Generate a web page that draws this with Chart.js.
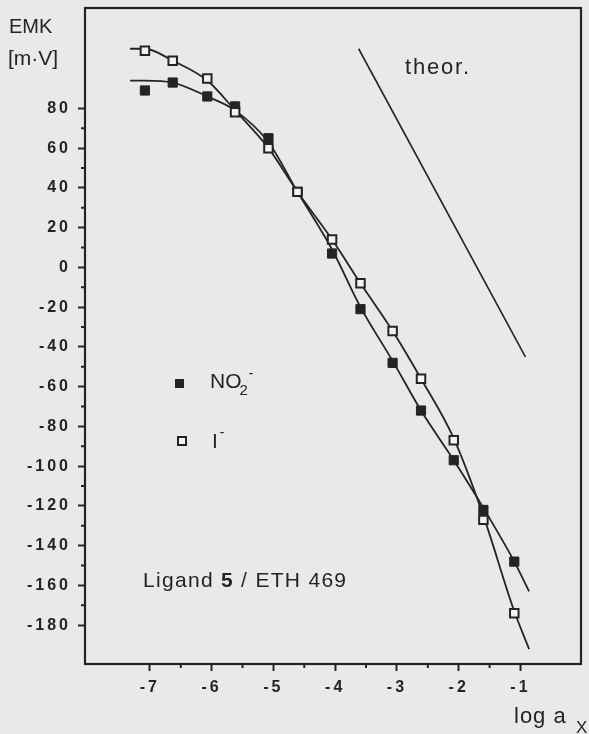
<!DOCTYPE html>
<html>
<head>
<meta charset="utf-8">
<script src="https://cdn.jsdelivr.net/npm/chart.js@4.4.1/dist/chart.umd.min.js"></script>
<style>
  html, body { margin: 0; padding: 0; background: #e9e9e9; }
  #wrap { width: 589px; height: 734px; }
</style>
</head>
<body>
<div id="wrap"><canvas id="emkChart" width="589" height="734"></canvas></div>
<script>
// measured points (log a_x -> EMK in mV)
const logA = [-7.08, -6.63, -6.07, -5.62, -5.08, -4.61, -4.05, -3.59, -3.07, -2.61, -2.08, -1.60, -1.10];
const emkNO2 = [89, 93, 86, 81, 65, 38, 7, -21, -48, -72, -97, -122, -148];
const emkIodide = [109, 104, 95, 78, 60, 38, 14, -8, -32, -56, -87, -127, -174];

// fitted curves
const fitLogA = [-7.32, -7.08, -6.63, -6.07, -5.62, -5.08, -4.61, -4.05, -3.59, -3.07, -2.61, -2.08, -1.60, -1.10, -0.86];
const fitNO2 = [94, 94, 93, 86, 79, 63, 38, 9, -20, -47, -72, -97, -121, -148, -163];
const fitIodide = [110, 110, 104, 94, 79, 60, 38, 14, -8, -32, -56, -86, -125, -173, -192];

// theoretical slope line
const theorLogA = [-3.62, -0.92];
const theorEmk = [110, -45];

// axis ticks
const xMajorTicks = [-7, -6, -5, -4, -3, -2, -1];
const xMinorTicks = [-6.5, -5.5, -4.5, -3.5, -2.5, -1.5];
const yMajorTicks = [-180, -160, -140, -120, -100, -80, -60, -40, -20, 0, 20, 40, 60, 80];
const yMinorTicks = [-170, -150, -130, -110, -90, -70, -50, -30, -10, 10, 30, 50, 70];

const ink = '#242424';
const fontFamily = '"Liberation Sans", Arial, Helvetica, sans-serif';

const toPoints = (xs, ys) => xs.map((x, i) => ({ x: x, y: ys[i] }));

function drawText(ctx, str, x, y, font, spacing) {
    ctx.font = font;
    ctx.letterSpacing = (spacing || 0) + 'px';
    ctx.fillText(str, x, y);
    return x + ctx.measureText(str).width;
}

const decorations = {
    id: 'decorations',
    beforeDraw(chart) {
        // spaced-out tick labels like the original print
        chart.ctx.letterSpacing = '3px';
    },
    afterDraw(chart) {
        const ctx = chart.ctx;
        const area = chart.chartArea;
        const xs = chart.scales.x;
        const ys = chart.scales.y;
        ctx.save();
        ctx.strokeStyle = ink;
        ctx.fillStyle = ink;

        // frame
        ctx.lineWidth = 2.2;
        ctx.strokeRect(area.left, area.top, area.right - area.left, area.bottom - area.top);

        // minor ticks
        ctx.lineWidth = 2;
        ctx.beginPath();
        xMinorTicks.forEach(v => {
            const px = xs.getPixelForValue(v);
            ctx.moveTo(px, area.bottom);
            ctx.lineTo(px, area.bottom + 4);
        });
        yMinorTicks.forEach(v => {
            const py = ys.getPixelForValue(v);
            ctx.moveTo(area.left - 4, py);
            ctx.lineTo(area.left, py);
        });
        ctx.stroke();

        ctx.textBaseline = 'alphabetic';
        ctx.textAlign = 'left';

        // axis titles
        drawText(ctx, 'EMK', 9, 33, '20px ' + fontFamily, 0);
        drawText(ctx, '[m\u00B7V]', 8, 65, '21px ' + fontFamily, 0);
        let end = drawText(ctx, 'log a', 514, 723, '22px ' + fontFamily, 1);
        drawText(ctx, 'X', 576, 733, '17px ' + fontFamily, 0);

        // annotations
        drawText(ctx, 'theor.', 405, 74, '22px ' + fontFamily, 1.8);
        end = drawText(ctx, 'Ligand ', 143, 587, '21px ' + fontFamily, 1.3);
        end = drawText(ctx, '5', end, 587, 'bold 21px ' + fontFamily, 1.3);
        drawText(ctx, ' / ETH 469', end, 587, '21px ' + fontFamily, 1.3);

        // legend
        ctx.fillRect(175, 379, 9, 9);
        end = drawText(ctx, 'NO', 210, 388, '21px ' + fontFamily, 0);
        end = drawText(ctx, '2', end - 2, 395, '15px ' + fontFamily, 0);
        drawText(ctx, '-', end + 1, 378, '14px ' + fontFamily, 0);

        ctx.lineWidth = 2;
        ctx.fillStyle = '#f3f3f3';
        ctx.fillRect(178, 437, 8, 8);
        ctx.strokeRect(178, 437, 8, 8);
        ctx.fillStyle = ink;
        end = drawText(ctx, 'I', 212, 448, '21px ' + fontFamily, 0);
        drawText(ctx, '-', end + 2, 437, '14px ' + fontFamily, 0);

        ctx.restore();
    }
};

const tickFont = { family: fontFamily, size: 16, weight: 'bold' };

new Chart(document.getElementById('emkChart'), {
    type: 'scatter',
    data: {
        datasets: [
            {
                label: 'I-',
                data: toPoints(logA, emkIodide),
                pointStyle: 'rect',
                pointRadius: 6,
                borderWidth: 2,
                borderColor: ink,
                backgroundColor: '#f3f3f3'
            },
            {
                label: 'NO2-',
                data: toPoints(logA, emkNO2),
                pointStyle: 'rect',
                pointRadius: 6.5,
                borderWidth: 1,
                borderColor: ink,
                backgroundColor: ink
            },
            {
                label: 'fit I-',
                data: toPoints(fitLogA, fitIodide),
                showLine: true,
                pointRadius: 0,
                borderWidth: 1.8,
                borderColor: ink,
                cubicInterpolationMode: 'monotone'
            },
            {
                label: 'fit NO2-',
                data: toPoints(fitLogA, fitNO2),
                showLine: true,
                pointRadius: 0,
                borderWidth: 1.8,
                borderColor: ink,
                cubicInterpolationMode: 'monotone'
            },
            {
                label: 'theor.',
                data: toPoints(theorLogA, theorEmk),
                showLine: true,
                pointRadius: 0,
                borderWidth: 1.6,
                borderColor: ink
            }
        ]
    },
    options: {
        responsive: false,
        animation: false,
        devicePixelRatio: 1,
        layout: { padding: { left: 0, top: 7, right: 5, bottom: 0 } },
        plugins: {
            legend: { display: false },
            tooltip: { enabled: false }
        },
        scales: {
            x: {
                type: 'linear',
                min: -8.05,
                max: -0.02,
                afterBuildTicks: scale => { scale.ticks = xMajorTicks.map(v => ({ value: v })); },
                afterFit: scale => { scale.height = 70; scale.paddingLeft = 0; scale.paddingRight = 0; },
                border: { display: false },
                grid: { drawOnChartArea: false, tickLength: 7, tickWidth: 2, tickColor: ink },
                ticks: { padding: 7, color: ink, font: tickFont, maxRotation: 0, autoSkip: false, callback: v => String(v) }
            },
            y: {
                type: 'linear',
                min: -199.5,
                max: 130.5,
                afterBuildTicks: scale => { scale.ticks = yMajorTicks.map(v => ({ value: v })); },
                afterFit: scale => { scale.width = 85; scale.paddingTop = 0; scale.paddingBottom = 0; },
                border: { display: false },
                grid: { drawOnChartArea: false, tickLength: 7, tickWidth: 2, tickColor: ink },
                ticks: { padding: 7, color: ink, font: tickFont, autoSkip: false, callback: v => String(v) }
            }
        }
    },
    plugins: [decorations]
});
</script>
</body>
</html>
